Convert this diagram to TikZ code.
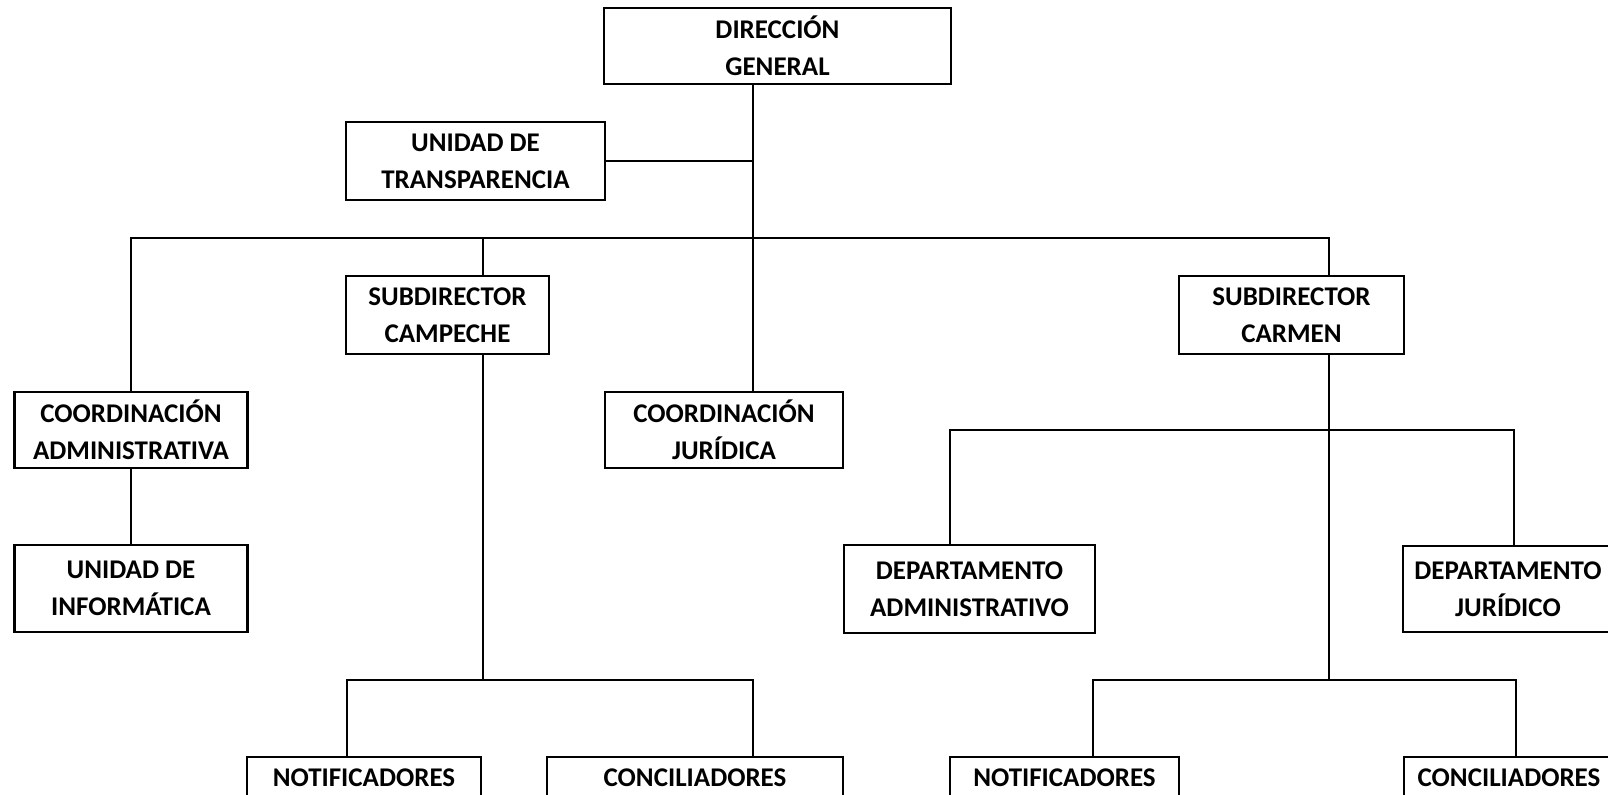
\documentclass[tikz,border=0pt]{standalone}
\usepackage{fontspec}
\setmainfont{Carlito}
\usetikzlibrary{positioning}

\tikzset{
  unit/.style={draw, line width=1.3pt, fill=white, align=center, inner sep=0pt,
    font=\bfseries\fontsize{13.5}{18.5}\selectfont},
  link/.style={line width=1.3pt}
}

\begin{document}
\begin{tikzpicture}[x=0.5pt,y=-0.5pt]
  \useasboundingbox (0,0) rectangle (1608,795);

  \node[unit, minimum width=173.5pt, minimum height=38pt] (dg) at (777.5,46) {DIRECCIÓN\\GENERAL};
  \node[unit, minimum width=129.5pt, minimum height=39pt] (ut) at (475.5,161) {UNIDAD DE\\TRANSPARENCIA};
  \node[unit, minimum width=101.5pt, minimum height=39pt] (sca) at (447.5,315) {SUBDIRECTOR\\CAMPECHE};
  \node[unit, minimum width=112.5pt, minimum height=39pt] (scr) at (1291.5,315) {SUBDIRECTOR\\CARMEN};
  \node[unit, minimum width=116.5pt, minimum height=38pt] (cad) at (131,430) {COORDINACIÓN\\ADMINISTRATIVA};
  \node[unit, minimum width=119pt, minimum height=38pt] (cju) at (724,430) {COORDINACIÓN\\JURÍDICA};
  \node[unit, minimum width=116.5pt, minimum height=43.5pt] (uin) at (131,588.5) {UNIDAD DE\\INFORMÁTICA};
  \node[unit, minimum width=125.5pt, minimum height=44pt] (dad) at (969.5,589) {DEPARTAMENTO\\ADMINISTRATIVO};
  \node[unit, minimum width=105pt, minimum height=43pt] (dju) at (1508,589) {DEPARTAMENTO\\JURÍDICO};
  \node[unit, minimum width=117pt, minimum height=21pt] (not1) at (364,778) {NOTIFICADORES};
  \node[unit, minimum width=148pt, minimum height=21pt] (con1) at (695,778) {CONCILIADORES};
  \node[unit, minimum width=114.5pt, minimum height=21pt] (not2) at (1064.5,778) {NOTIFICADORES};
  \node[unit, minimum width=105pt, minimum height=21pt] (con2) at (1509,778) {CONCILIADORES};

  \coordinate (hub) at (753,238);
  \coordinate (busA) at (132,238);
  \coordinate (busB) at (1329,238);
  \coordinate (jsca) at (483,238);
  \coordinate (cbus) at (483,680);
  \coordinate (cl) at (347,680);
  \coordinate (cr) at (753,680);
  \coordinate (kbus) at (1329,680);
  \coordinate (dl) at (950,430);
  \coordinate (dr) at (1514,430);
  \coordinate (kl) at (1093,680);
  \coordinate (kr) at (1516,680);

  \draw[link] (hub |- dg.south) -- (hub);
  \draw[link] (ut.east) -- (ut.east -| hub);
  \draw[link] (cad.north) -- (cad.north |- busA) -- (busB) -- (busB |- scr.north);
  \draw[link] (jsca) -- (jsca |- sca.north);
  \draw[link] (hub) -- (hub |- cju.north);
  \draw[link] (cad.south) -- (uin.north);
  \draw[link] (jsca |- sca.south) -- (cbus);
  \draw[link] (cl |- not1.north) -- (cl) -- (cr) -- (cr |- con1.north);
  \draw[link] (busB |- scr.south) -- (kbus);
  \draw[link] (dl |- dad.north) -- (dl) -- (dr) -- (dr |- dju.north);
  \draw[link] (kl |- not2.north) -- (kl) -- (kr) -- (kr |- con2.north);
\end{tikzpicture}
\end{document}
